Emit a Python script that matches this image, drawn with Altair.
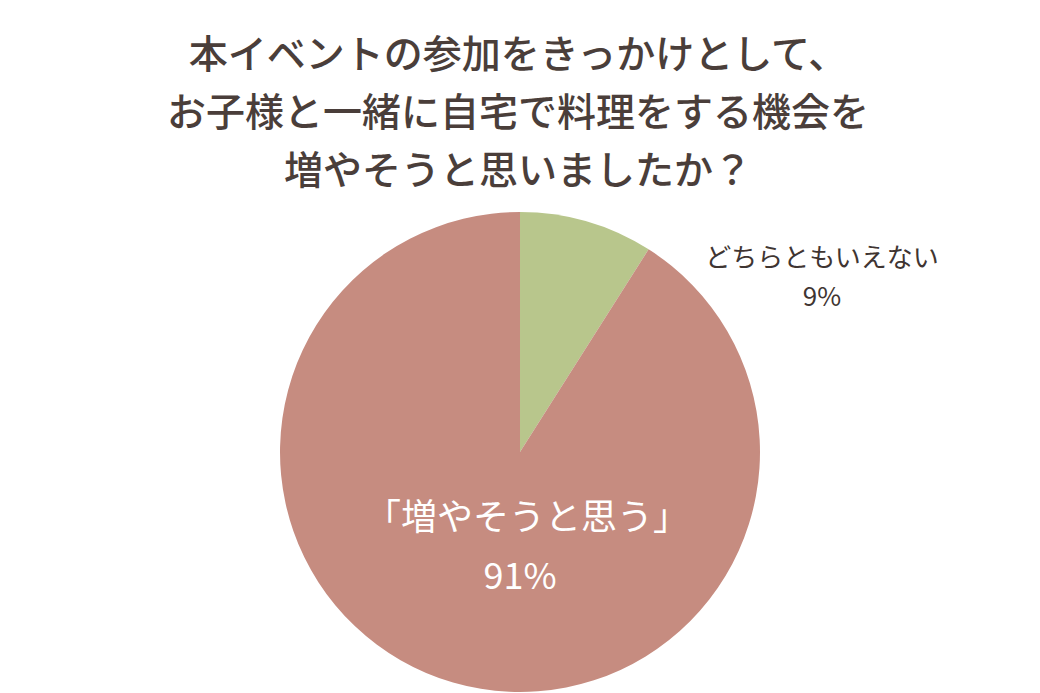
import altair as alt
import pandas as pd

categories = ["どちらともいえない", "増やそうと思う"]
values = [9, 91]
colors = ["#b8c68c", "#c68c80"]
title_lines = [
    "本イベントの参加をきっかけとして、",
    "お子様と一緒に自宅で料理をする機会を",
    "増やそうと思いましたか？",
]
label_big = ["「増やそうと思う」", "91%"]
label_small = ["どちらともいえない", "9%"]

df = pd.DataFrame({"category": categories, "value": values, "order": [0, 1]})

FONT = "Noto Sans CJK JP"
CX, CY, R = 512, 444, 240

pie = alt.Chart(df).mark_arc(outerRadius=R).encode(
    theta=alt.Theta("value:Q", stack=True),
    order=alt.Order("order:Q"),
    color=alt.Color("category:N", scale=alt.Scale(domain=categories, range=colors), legend=None),
    x=alt.value(CX),
    y=alt.value(CY),
)

def text_line(txt, x, y, size, color, weight="normal"):
    return alt.Chart(pd.DataFrame({"t": [txt]})).mark_text(
        font=FONT, fontSize=size, fontWeight=weight, color=color, align="center", baseline="middle"
    ).encode(text="t:N", x=alt.value(x), y=alt.value(y))

layers = [pie]
for i, line in enumerate(title_lines):
    layers.append(text_line(line, 510, 48 + i * 58, 39, "#4a3e3a", 500))
layers.append(text_line(label_big[0], 519, 511, 36, "#ffffff"))
layers.append(text_line(label_big[1], 512, 570, 36, "#ffffff"))
layers.append(text_line(label_small[0], 814, 251, 26, "#3f3532"))
layers.append(text_line(label_small[1], 814, 290, 26, "#3f3532"))

chart = alt.layer(*layers).properties(
    width=1024, height=685, autosize=alt.AutoSizeParams(type="none"), padding=0
).configure_view(stroke=None)

chart.save("out.html", embed_options={"renderer": "svg", "actions": False})
